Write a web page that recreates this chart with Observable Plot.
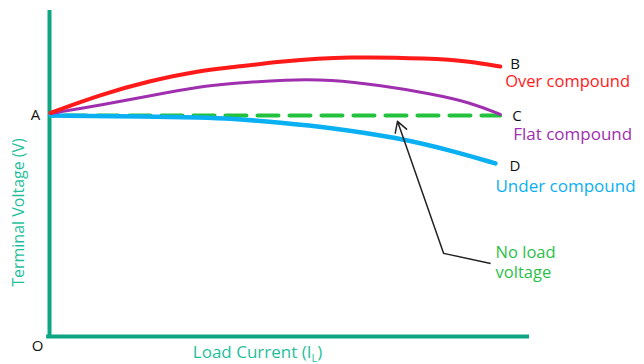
<!DOCTYPE html>
<html>
<head>
<meta charset="utf-8">
<script src="https://cdn.jsdelivr.net/npm/d3@7"></script>
<script src="https://cdn.jsdelivr.net/npm/@observablehq/plot@0.6"></script>
<style>
  body { margin: 0; background: #fff; }
  svg { display: block; }
</style>
</head>
<body>
<div id="chart"></div>
<script>
// Load current (0-100, arbitrary units) and terminal voltage (0-100, arbitrary units)
const overX  = [0.2, 10.6, 21.0, 31.5, 37.7, 48.1, 62.1, 79.4, 87.7, 93.9];
const overY  = [68.6, 74.2, 78.5, 81.6, 82.5, 84.4, 85.9, 85.3, 84.4, 82.8];
const flatX  = [0.2, 10.6, 21.0, 31.5, 37.7, 49.6, 58.5, 69.0, 79.4, 87.7, 93.9];
const flatY  = [68.4, 70.9, 73.9, 76.7, 77.6, 78.8, 78.8, 77.0, 74.5, 71.8, 68.1];
const underX = [0.2, 21.0, 31.5, 37.7, 48.1, 58.5, 72.5, 83.5, 92.9];
const underY = [67.8, 67.5, 67.2, 66.9, 65.6, 64.1, 61.0, 57.1, 53.1];
const noLoadX = [0.2, 93.9];
const noLoadY = [67.8, 67.8];
// annotation arrow: tail, tip, label elbow
const arrowTail = {x: 82.1, y: 25.5};
const arrowTip  = {x: 72.5, y: 66.0};
const labelElbow = {x: 91.9, y: 22.4};

const xLabel = "Load Current (IL)";
const yLabel = "Terminal Voltage (V)";
const pointLabels = {start: "A", origin: "O", over: "B", flat: "C", under: "D"};
const seriesNames = {over: "Over compound", flat: "Flat compound", under: "Under compound", noLoad: "No load\nvoltage"};

const zip = (xs, ys) => xs.map((x, i) => ({x, y: ys[i]}));
const over = zip(overX, overY);
const flat = zip(flatX, flatY);
const under = zip(underX, underY);
const noLoad = zip(noLoadX, noLoadY);
const last = a => a[a.length - 1];

const C = {
  axis: "#0ea582", axisText: "#1fbf9c", red: "#ff1a1a", purple: "#a02fb0",
  blue: "#0ab0f2", green: "#22c23e", greenText: "#2bbf4a"
};
const font = "'Open Sans', sans-serif";

const plot = Plot.plot({
  width: 644,
  height: 364,
  marginLeft: 49,
  marginRight: 115,
  marginTop: 10,
  marginBottom: 28,
  x: {domain: [0, 100], axis: null},
  y: {domain: [0, 100], axis: null},
  style: {fontFamily: font, background: "#fff"},
  marks: [
    Plot.ruleX([0], {y1: 0, y2: 100, stroke: C.axis, strokeWidth: 4}),
    Plot.ruleY([0], {x1: -0.6, x2: 100, stroke: C.axis, strokeWidth: 4}),
    Plot.line(noLoad, {x: "x", y: "y", stroke: C.green, strokeWidth: 4, strokeDasharray: "21,11", strokeDashoffset: 17}),
    Plot.line(under, {x: "x", y: "y", stroke: C.blue, strokeWidth: 4.5, curve: "basis"}),
    Plot.line(flat, {x: "x", y: "y", stroke: C.purple, strokeWidth: 3, curve: "basis"}),
    Plot.line(over, {x: "x", y: "y", stroke: C.red, strokeWidth: 4, curve: "basis"}),
    Plot.arrow([{a: arrowTail, b: arrowTip}], {
      x1: d => d.a.x, y1: d => d.a.y, x2: d => d.b.x, y2: d => d.b.y,
      stroke: "#222", strokeWidth: 1.5, headLength: 12
    }),
    Plot.link([{a: arrowTail, b: labelElbow}], {
      x1: d => d.a.x, y1: d => d.a.y, x2: d => d.b.x, y2: d => d.b.y,
      stroke: "#222", strokeWidth: 1.5
    }),
    // point letters
    Plot.text([last(over)], {x: "x", y: "y", text: [pointLabels.over], dx: 10, dy: -2, textAnchor: "start", fontSize: 15, fill: "#111"}),
    Plot.text([last(flat)], {x: "x", y: "y", text: [pointLabels.flat], dx: 12, dy: 2, textAnchor: "start", fontSize: 15, fill: "#111"}),
    Plot.text([last(under)], {x: "x", y: "y", text: [pointLabels.under], dx: 14, dy: 3, textAnchor: "start", fontSize: 15, fill: "#111"}),
    Plot.text([noLoad[0]], {x: "x", y: "y", text: [pointLabels.start], dx: -15, dy: 0, textAnchor: "middle", fontSize: 15, fill: "#111"}),
    Plot.text([{x: 0, y: 0}], {x: "x", y: "y", text: [pointLabels.origin], dx: -12, dy: 10, textAnchor: "middle", fontSize: 15, fill: "#111"}),
    // series names
    Plot.text([last(over)], {x: "x", y: "y", text: [seriesNames.over], dx: 5, dy: 15, textAnchor: "start", fontSize: 16.5, fill: C.red}),
    Plot.text([last(flat)], {x: "x", y: "y", text: [seriesNames.flat], dx: 13, dy: 20, textAnchor: "start", fontSize: 17, fill: C.purple}),
    Plot.text([last(under)], {x: "x", y: "y", text: [seriesNames.under], dx: 0, dy: 23, textAnchor: "start", fontSize: 17, fill: C.blue}),
    Plot.text([labelElbow], {x: "x", y: "y", text: [seriesNames.noLoad], dx: 5, dy: -2, textAnchor: "start", fontSize: 16.5, lineHeight: 1.25, fill: C.greenText}),
    // axis titles
    Plot.text([yLabel], {frameAnchor: "left", dx: -31, dy: 39, rotate: -90, textAnchor: "middle", fontSize: 16, fill: C.axisText}),
    Plot.text([xLabel], {frameAnchor: "bottom", dx: -32, dy: 21, fontSize: 17, fill: C.axisText})
  ]
});

// subscript L in the x-axis title
d3.select(plot).selectAll("text").filter(function() { return this.textContent === xLabel; })
  .each(function() {
    const t = d3.select(this);
    t.text("");
    t.append("tspan").text("Load Current (I");
    t.append("tspan").attr("dy", 4).attr("font-size", 11).text("L");
    t.append("tspan").attr("dy", -4).text(")");
  });

document.getElementById("chart").appendChild(plot);
</script>
</body>
</html>
